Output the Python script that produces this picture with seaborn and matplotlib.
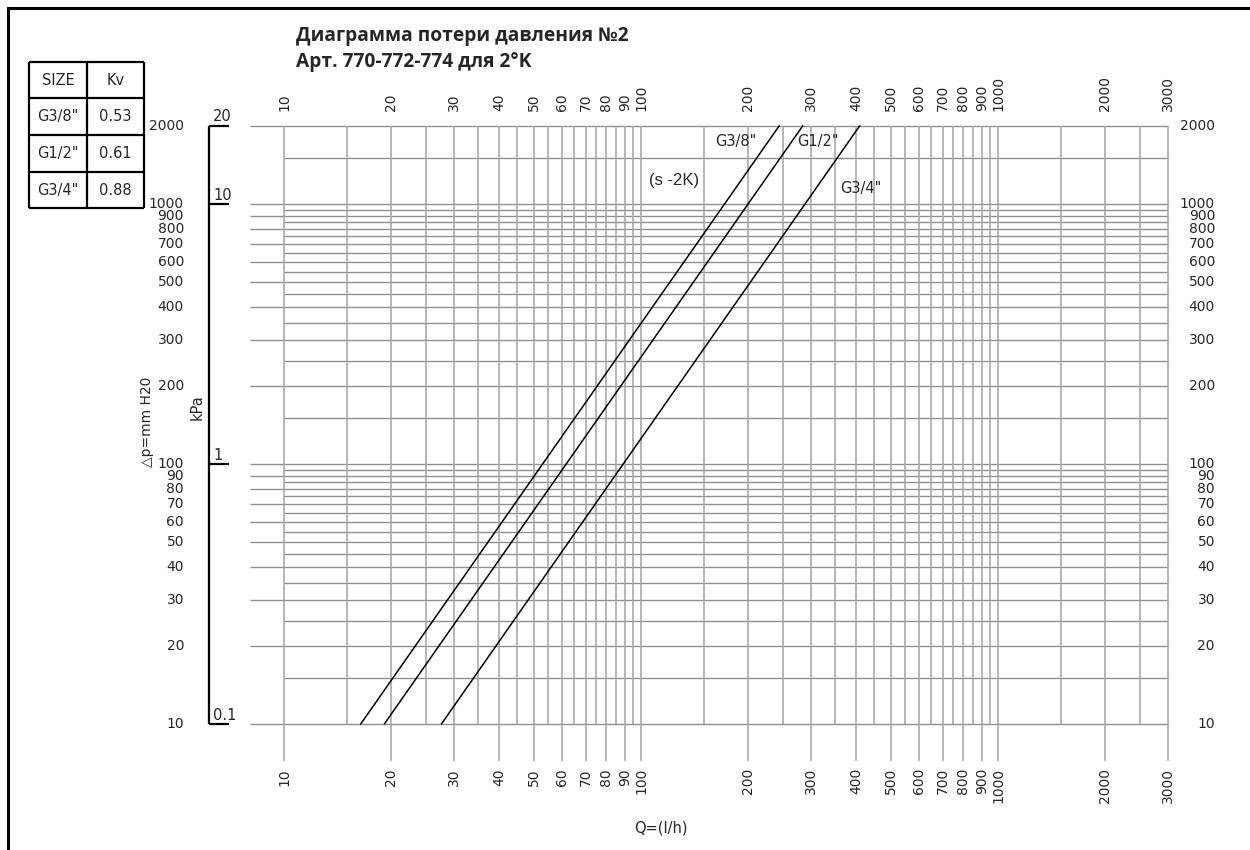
import numpy as np
import pandas as pd
import matplotlib
matplotlib.use("Agg")
import matplotlib.pyplot as plt
import seaborn as sns

# ---------------- data ----------------
sizes = ['G3/8"', 'G1/2"', 'G3/4"']
kv_values = ["0.53", "0.61", "0.88"]

# flow Q (l/h) read at the bottom (10 mm H2O) and top (2000 mm H2O) of each line
line_dp = [10, 2000]
q_g38 = [16.4, 244]
q_g12 = [19.1, 284]
q_g34 = [27.6, 410]

x_major = [10, 20, 30, 40, 50, 60, 70, 80, 90, 100, 200, 300, 400, 500,
           600, 700, 800, 900, 1000, 2000, 3000]
x_minor = [15, 25, 35, 45, 55, 65, 75, 85, 95, 150, 250, 350, 450, 550,
           650, 750, 850, 950, 1500, 2500]
y_major = [10, 20, 30, 40, 50, 60, 70, 80, 90, 100, 200, 300, 400, 500,
           600, 700, 800, 900, 1000, 2000]
y_minor = [15, 25, 35, 45, 55, 65, 75, 85, 95, 150, 250, 350, 450, 550,
           650, 750, 850, 950, 1500]
kpa_ticks = [20, 10, 1, 0.1]
kpa_labels = ["20", "10", "1", "0.1"]

title1 = "Диаграмма потери давления №2"
title2 = "Арт. 770-772-774 для 2°K"

# ---------------- layout helpers (pixel -> data) ----------------
W, H = 1250, 850


def qx(px):
    return 10 * 10 ** ((px - 284) / 357.0)


def py(p):
    return 10 * 10 ** ((724 - p) / 260.0)


sns.set_style("white")
plt.rcParams["font.family"] = ["DejaVu Sans"]

fig = plt.figure(figsize=(W / 100, H / 100), dpi=100)
ax = fig.add_axes([0, 0, 1, 1])

xmax = x_major[-1]
ymax = y_major[-1]
ymin = y_major[0]
xmin = x_major[0]

# the three characteristic lines
df = pd.DataFrame({
    "Q": q_g38 + q_g12 + q_g34,
    "dp": line_dp * 3,
    "size": [sizes[0]] * 2 + [sizes[1]] * 2 + [sizes[2]] * 2,
})
sns.lineplot(data=df, x="Q", y="dp", hue="size", units="size", estimator=None,
             palette=["black"] * 3, lw=1.1, legend=False, ax=ax, zorder=3)
ax.set_xscale("log")
ax.set_yscale("log")
ax.set_xlim(qx(0), qx(W))
ax.set_ylim(py(H), py(0))
ax.axis("off")

ov = fig.add_axes([0, 0, 1, 1], zorder=5)
ov.set_xlim(0, W)
ov.set_ylim(H, 0)
ov.axis("off")
ov.patch.set_alpha(0)

hcol = "#8f8f8f"
vcol = "#a9a9a9"
# horizontal grid
ax.hlines(y_major, qx(250), xmax, colors=hcol, lw=1.0, zorder=1)
ax.hlines(y_minor, xmin, xmax, colors=hcol, lw=1.0, zorder=1)
# vertical grid
ax.vlines(x_major, py(761), ymax, colors=vcol, lw=1.2, zorder=1)
ax.vlines(x_minor, ymin, ymax, colors=vcol, lw=1.2, zorder=1)

fs = 10
# y labels left and right
for v in y_major:
    ax.text(qx(184), v, str(v), ha="right", va="center", fontsize=fs)
    ax.text(qx(1215), v, str(v), ha="right", va="center", fontsize=fs)
# x labels top and bottom
for v in x_major:
    ax.text(v, py(111), str(v), ha="center", va="bottom", rotation=90, fontsize=fs)
    ax.text(v, py(768), str(v), ha="center", va="top", rotation=90, fontsize=fs)

# kPa scale
kpa_mm = [k * 100 for k in kpa_ticks]
ax.vlines(qx(209), min(kpa_mm), max(kpa_mm), colors="black", lw=1.6, zorder=3)
ax.hlines(kpa_mm, qx(209), qx(229), colors="black", lw=1.6, zorder=3)
for k, lab in zip(kpa_mm, kpa_labels):
    ax.text(qx(213), k * 1.012, lab, ha="left", va="bottom", fontsize=10.5)

# line labels
ov.text(736, 141, sizes[0], ha="center", va="center", fontsize=10.5)
ov.text(818, 141, sizes[1], ha="center", va="center", fontsize=10.5)
ov.text(861, 188, sizes[2], ha="center", va="center", fontsize=10.5)
ov.text(674, 180, "(s -2K)", ha="center", va="center", fontsize=12,
        family=["Liberation Sans", "DejaVu Sans"])

# axis labels
ov.text(147, 422, "△p=mm H20", ha="center", va="center", rotation=90, fontsize=10)
ov.text(197, 407, "kPa", ha="center", va="center", rotation=90, fontsize=10.5)
ov.text(661, 828, "Q=(l/h)", ha="center", va="center", fontsize=10.5)

# title
ov.text(296, 41, title1, ha="left", va="baseline", fontsize=13.8, fontweight="bold",
        family=["Open Sans", "DejaVu Sans"])
ov.text(296, 67, title2, ha="left", va="baseline", fontsize=13.8, fontweight="bold",
        family=["Open Sans", "DejaVu Sans"])

# table
tx = [29, 87, 144]
ty = [62, 98, 135, 172, 208]
ov.vlines(tx, ty[0], ty[-1], colors="black", lw=1.6)
ov.hlines(ty, tx[0], tx[-1], colors="black", lw=1.6)
rows = [("SIZE", "Kv")] + list(zip(sizes, kv_values))
for i, (a, b) in enumerate(rows):
    yc = (ty[i] + ty[i + 1]) / 2
    ov.text((tx[0] + tx[1]) / 2, yc, a, ha="center", va="center", fontsize=10.5)
    ov.text((tx[1] + tx[2]) / 2, yc, b, ha="center", va="center", fontsize=10.5)

# frame
ov.plot([8, 8, W], [H, 8, 8], color="black", lw=2.2, solid_joinstyle="miter")

fig.savefig("out.png", dpi=100)
